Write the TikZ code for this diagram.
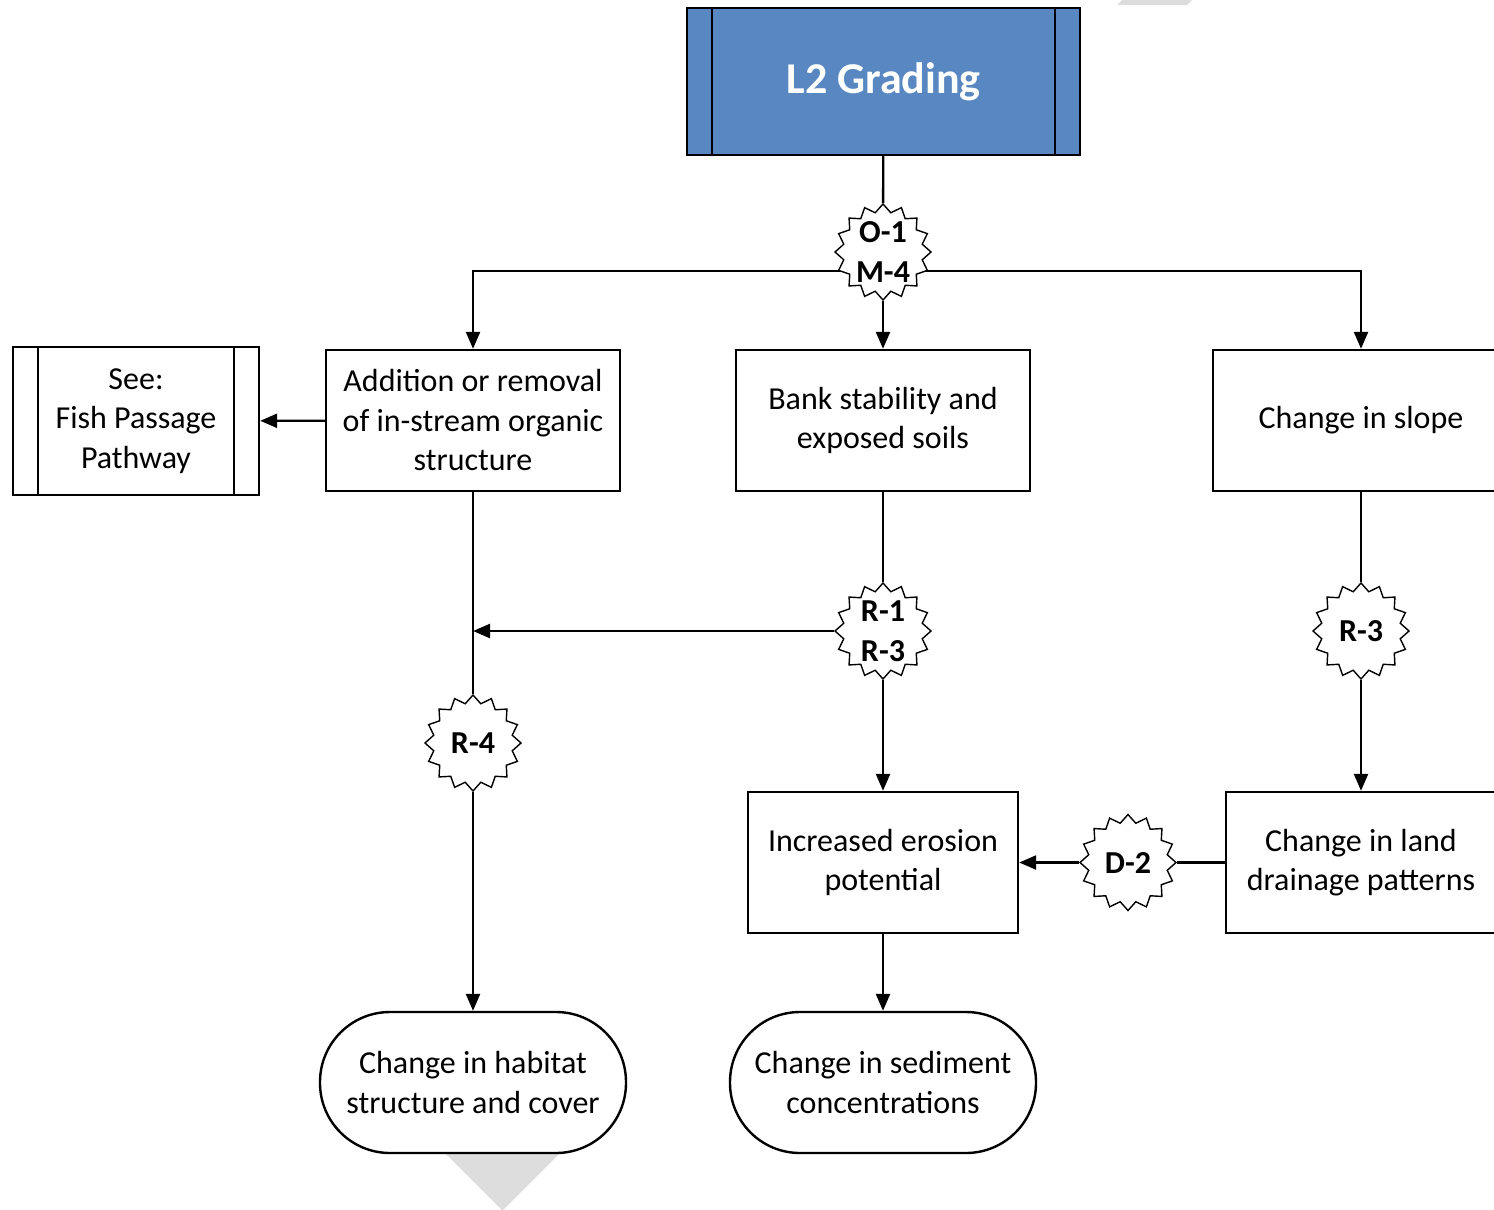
\documentclass[tikz,border=0pt]{standalone}
\usepackage{fontspec}
\setmainfont{Carlito}
\usetikzlibrary{shapes.geometric,arrows.meta,backgrounds}
\definecolor{gradeblue}{RGB}{88,135,193}
\definecolor{markgrey}{RGB}{221,221,221}
\newcommand\bodyfont{\fontsize{32}{39.5}\selectfont}
\newcommand\titlefont{\fontsize{44}{50}\selectfont\bfseries}
\begin{document}
\begin{tikzpicture}[x=1pt,y=-1pt,line width=2.4pt,
  procbox/.style={draw,rectangle,align=center,inner sep=0pt,font=\bodyfont},
  endbox/.style={procbox,rounded corners=70pt,minimum width=306pt,minimum height=141pt},
  sidebars/.style={path picture={
      \draw ([xshift=25pt]path picture bounding box.north west) -- ([xshift=25pt]path picture bounding box.south west);
      \draw ([xshift=-25pt]path picture bounding box.north east) -- ([xshift=-25pt]path picture bounding box.south east);}},
  burst/.style={star,star points=16,star point ratio=1.2,draw,fill=white,line width=1.4pt,
      minimum size=96pt,inner sep=0pt},
  bursttext/.style={align=center,font=\bodyfont\bfseries,inner sep=0pt},
  link/.style={line width=2.4pt},
  arr/.style={link,-{Triangle[length=17pt,width=14pt]}}]
\useasboundingbox (0,0) rectangle (1494,1210);
\clip (0,0) rectangle (1494,1210);

% header
\node[procbox,sidebars,fill=gradeblue,minimum width=393pt,minimum height=147pt,
      font=\titlefont,text=white] (grading) at (883.5,81.5) {L2 Grading};

% first row
\node[procbox,minimum width=294pt,minimum height=141pt] (addition) at (473,420.5)
  {Addition or removal\\of in-stream organic\\structure};
\node[procbox,minimum width=294pt,minimum height=141pt] (bank) at (883,420.5)
  {Bank stability and\\exposed soils};
\node[procbox,minimum width=296pt,minimum height=141pt] (slope) at (1361,420.5)
  {Change in slope};
\node[procbox,sidebars,minimum width=246pt,minimum height=148pt] (see) at (136,421)
  {See:\\Fish Passage\\Pathway};

% second row
\node[procbox,minimum width=270pt,minimum height=141pt] (erosion) at (883,862.5)
  {Increased erosion\\potential};
\node[procbox,minimum width=270pt,minimum height=141pt] (drainage) at (1361,862.5)
  {Change in land\\drainage patterns};

% outcomes
\node[endbox] (habitat) at (473,1082.5) {Change in habitat\\structure and cover};
\node[endbox] (sediment) at (883,1082.5) {Change in sediment\\concentrations};

% code markers
\node[burst,label={[bursttext]center:O-1\\M-4}] (s1) at (883,252) {};
\node[burst,label={[bursttext]center:R-1\\R-3}] (s2) at (883,631) {};
\node[burst,label={[bursttext]center:R-3}] (s3) at (1361,631) {};
\node[burst,label={[bursttext]center:R-4}] (s4) at (473,743) {};
\node[burst,label={[bursttext]center:D-2}] (s5) at (1128,862.5) {};

\coordinate (hub) at (883,271);

\begin{scope}[on background layer]
  \fill[markgrey] (445,1153) -- (560,1153) -- (502.5,1210.5) -- cycle;
  \fill[markgrey] (1117,5) -- (1122,0) -- (1192,0) -- (1187,5) -- cycle;
  \draw[link] (grading) -- (s1);
  \draw[arr] (hub) -| (addition.north);
  \draw[arr] (hub) -| (slope.north);
\end{scope}

% connectors
\draw[arr] (s1) -- (bank);
\draw[arr] (addition) -- (see);
\draw[link] (addition) -- (s4);
\draw[arr] (s4) -- (habitat);
\draw[link] (bank) -- (s2);
\draw[arr] (s2) -- (erosion);
\draw[arr] (s2) -- (s2 -| addition);
\draw[link] (slope) -- (s3);
\draw[arr] (s3) -- (drainage);
\draw[link] (drainage) -- (s5);
\draw[arr] (s5) -- (erosion);
\draw[arr] (erosion) -- (sediment);
\end{tikzpicture}
\end{document}
